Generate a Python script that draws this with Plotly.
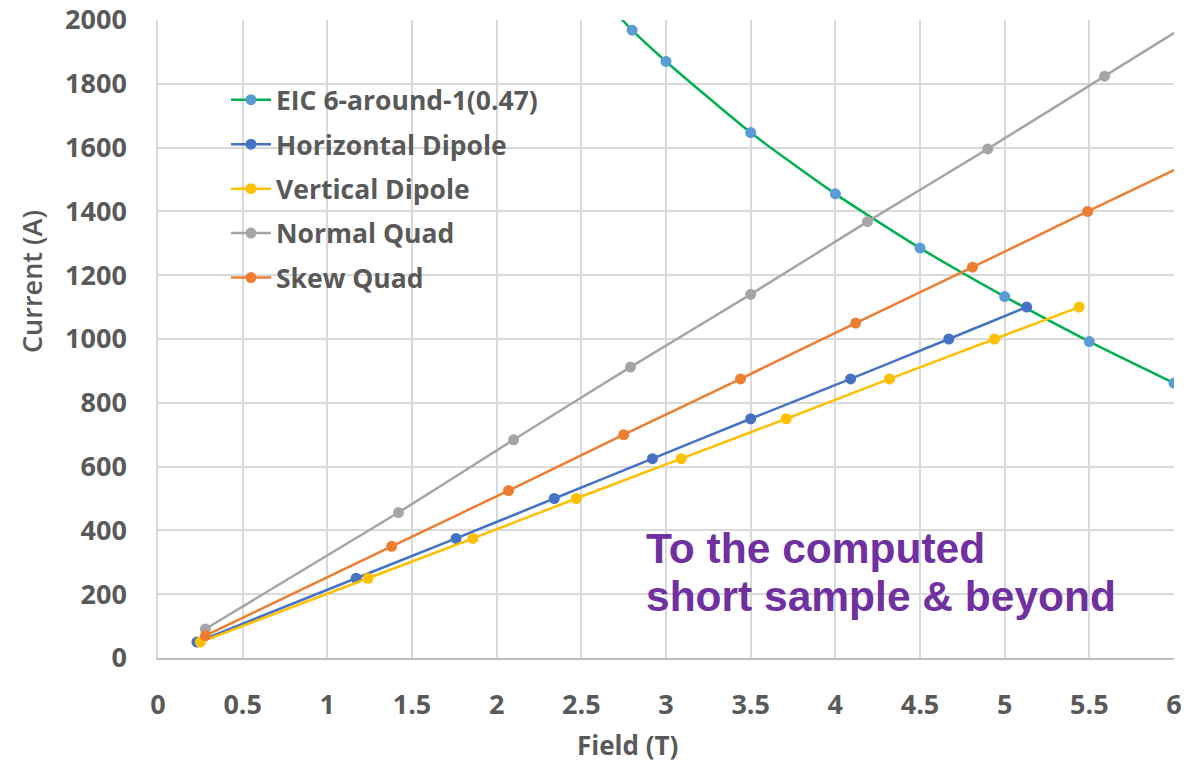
import plotly.graph_objects as go

# Field (T) vs current (A) for each magnet type
eic_field = [2.5, 2.8, 3.0, 3.5, 4.0, 4.5, 5.0, 5.5, 6.0]
eic_current = [2140, 1968, 1870, 1647, 1455, 1285, 1133, 992, 862]

hdip_field = [0.23, 1.17, 1.76, 2.34, 2.92, 3.50, 4.09, 4.67, 5.13]
hdip_current = [50, 250, 375, 500, 625, 750, 875, 1000, 1100]

vdip_field = [0.25, 1.24, 1.86, 2.47, 3.09, 3.71, 4.32, 4.94, 5.44]
vdip_current = [50, 250, 375, 500, 625, 750, 875, 1000, 1100]

nquad_field = [0.28, 1.42, 2.10, 2.79, 3.50, 4.19, 4.90, 5.59, 6.28]
nquad_current = [91, 456, 684, 912, 1140, 1368, 1596, 1824, 2052]

squad_field = [0.28, 1.38, 2.07, 2.75, 3.44, 4.12, 4.81, 5.49, 6.18]
squad_current = [70, 350, 525, 700, 875, 1050, 1225, 1400, 1575]

x_ticks = [0, 0.5, 1, 1.5, 2, 2.5, 3, 3.5, 4, 4.5, 5, 5.5, 6]
y_ticks = [0, 200, 400, 600, 800, 1000, 1200, 1400, 1600, 1800, 2000]

TEXT = "#595959"
GRID = "#D9D9D9"

series = [
    ("EIC 6-around-1(0.47)", eic_field, eic_current, "#00B050", "#5B9BD5"),
    ("Horizontal Dipole", hdip_field, hdip_current, "#4472C4", "#4472C4"),
    ("Vertical Dipole", vdip_field, vdip_current, "#FFC000", "#FFC000"),
    ("Normal Quad", nquad_field, nquad_current, "#A5A5A5", "#A5A5A5"),
    ("Skew Quad", squad_field, squad_current, "#ED7D31", "#ED7D31"),
]

fig = go.Figure()
for i, (name, xs, ys, lc, mc) in enumerate(series):
    fig.add_trace(go.Scatter(
        x=xs, y=ys, name=name, mode="lines+markers",
        line=dict(color=lc, width=2.5, shape="spline", smoothing=0.6),
        marker=dict(color=mc, size=11),
        legendgroup=f"g{i}",
        cliponaxis=True,
    ))

fig.update_layout(
    width=1204, height=774,
    margin=dict(l=158, r=30, t=20, b=116, autoexpand=False),
    paper_bgcolor="white", plot_bgcolor="white",
    font=dict(family="Open Sans", color=TEXT),
    showlegend=True,
    legend=dict(
        x=(226 - 158) / 1016, y=(658 - 76) / 638,
        xanchor="left", yanchor="top",
        bgcolor="rgba(255,255,255,0)",
        font=dict(family="Open Sans", size=26.5, color=TEXT, weight="bold"),
        traceorder="grouped", tracegroupgap=7,
        itemwidth=40,
    ),
    shapes=[dict(
        type="rect", xref="paper", yref="paper", layer="between",
        x0=(166 - 158) / 1016, x1=(610 - 158) / 1016,
        y0=(658 - 303) / 638, y1=(658 - 77) / 638,
        fillcolor="white", line=dict(width=0),
    )],
    annotations=[
        dict(text="Current (A)", xref="paper", yref="paper",
             x=(31 - 158) / 1016, y=(658 - 282) / 638, textangle=-90,
             showarrow=False, xanchor="center", yanchor="middle",
             font=dict(family="Open Sans", size=27, color=TEXT, weight=600)),
        dict(text="Field (T)", xref="paper", yref="paper",
             x=(627 - 158) / 1016, y=(658 - 745) / 638,
             showarrow=False, xanchor="center", yanchor="middle",
             font=dict(family="Open Sans", size=26, color=TEXT, weight="bold")),
        dict(text="To the computed", xref="paper", yref="paper",
             x=(644 - 158) / 1016, y=(658 - 548) / 638,
             showarrow=False, xanchor="left", yanchor="middle",
             font=dict(family="Liberation Sans", size=42.5, color="#7030A0", weight="bold")),
        dict(text="short sample & beyond", xref="paper", yref="paper",
             x=(644 - 158) / 1016, y=(658 - 596) / 638,
             showarrow=False, xanchor="left", yanchor="middle",
             font=dict(family="Liberation Sans", size=42.5, color="#7030A0", weight="bold")),
    ],
)

fig.update_xaxes(
    range=[0, 6], tickvals=x_ticks, ticktext=[f"{v:g}" for v in x_ticks],
    showgrid=True, gridcolor=GRID, gridwidth=1.5,
    showline=True, linecolor="#BFBFBF", linewidth=1.5,
    zeroline=False, ticks="", ticklabelstandoff=22, automargin=False,
    tickfont=dict(family="Open Sans", size=27, color=TEXT, weight="bold"),
)
fig.update_yaxes(
    range=[0, 2000], tickvals=y_ticks, ticktext=[str(v) for v in y_ticks],
    showgrid=True, gridcolor=GRID, gridwidth=1.5,
    showline=True, linecolor=GRID, linewidth=1.5,
    zeroline=False, ticks="", ticklabelstandoff=24, automargin=False,
    tickfont=dict(family="Open Sans", size=27, color=TEXT, weight="bold"),
)

fig.write_html("out.html", config={"displayModeBar": False})
